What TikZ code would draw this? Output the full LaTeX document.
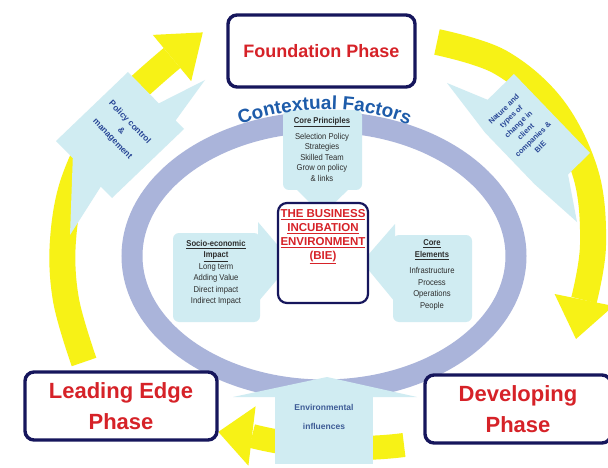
\documentclass[tikz,border=0pt]{standalone}
\usepackage{fontspec}
\setmainfont{Liberation Sans}
\newfontfamily\narrowfont[FakeStretch=0.9]{Liberation Sans}
\usetikzlibrary{decorations.text}
\definecolor{yel}{RGB}{247,242,22}
\definecolor{lav}{RGB}{170,180,218}
\definecolor{lblue}{RGB}{208,236,242}
\definecolor{navy}{RGB}{22,22,92}
\definecolor{pred}{RGB}{214,34,40}
\definecolor{ctx}{RGB}{30,92,170}
\definecolor{cblue}{RGB}{40,70,150}
\definecolor{envblue}{RGB}{62,92,150}
\definecolor{itext}{RGB}{45,45,45}
\tikzset{
  phasebox/.style={draw=navy, line width=3.4, rounded corners=9, fill=white, align=center,
     text=pred, font=\bfseries\fontsize{22}{31}\selectfont},
  callout/.style={fill=lblue},
  inner/.style={align=center, text=itext, font=\narrowfont\fontsize{8.5}{11.5}\selectfont},
  bigtxt/.style={align=center, text=cblue, font=\bfseries\fontsize{8.5}{12}\selectfont},
}
\begin{document}
\begin{tikzpicture}[x=1pt,y=-1pt]
\clip (0,0) rectangle (608,468);
\fill[white] (0,0) rectangle (608,468);

% yellow cycle arrows
\draw[yel, line width=26] plot[smooth, tension=0.6] coordinates {(84,362) (66,300) (63,240) (75,178) (108,118) (172,58)};
\fill[yel] (152.8,34.9) -- (202.8,32.4) -- (191.2,81.1) -- cycle;
\draw[yel, line width=26] plot[smooth, tension=0.6] coordinates {(437,42) (500,62) (553,108) (586,175) (593,245) (584,300)};
\fill[yel] (613.4,306) -- (576,339) -- (554.6,294) -- cycle;
\draw[yel, line width=24] (404,445) .. controls (350,452) and (290,446) .. (252,436);
\fill[yel] (255.6,406.3) -- (218.3,431.9) -- (248.4,465.7) -- cycle;

% lavender ring
\draw[lav, line width=21] (324,256) ellipse [x radius=192, y radius=134];

% big side callouts
\fill[callout] (128,72) -- (158.8,103.4) -- (205,80) -- (175.6,120.5) -- (184,129) -- (112,198)
   -- (100.8,186.6) -- (70,235) -- (72.8,158.1) -- (56,141) -- cycle;
\node[bigtxt, rotate=-46] (pol) at (121,131) {Policy control\\\&\\management};

\fill[callout] (514,74) -- (590,153) -- (568,174.5) -- (577,222) -- (534.6,184.2)
   -- (485.2,132.8) -- (447,83) -- (487.6,99.8) -- cycle;
\node[bigtxt, rotate=44, font=\bfseries\fontsize{7.5}{10.5}\selectfont] (nat) at (522,128)
   {Nature and\\types of\\change in\\client\\companies \&\\BIE};

% inner callouts
\fill[callout, rounded corners=6] (283,110) rectangle (362,190);
\fill[callout] (295,188) -- (350,188) -- (322,215) -- cycle;
\fill[callout, rounded corners=6] (173,233) rectangle (260,322);
\fill[callout] (258,222) -- (292,262) -- (258,302) -- cycle;
\fill[callout, rounded corners=6] (393,235) rectangle (472,322);
\fill[callout] (395,224) -- (362,262) -- (395,302) -- cycle;

% contextual factors (on top of the ring and the core principles box)
\path[decorate, decoration={text along path, text align=center, text color=ctx,
   text={|\bfseries\fontsize{19}{19}\selectfont|Contextual Factors}}]
   (239.3,125.3) arc[start angle=243, end angle=297, x radius=188, y radius=147];

\node[inner] (cp) at (322,149) {\textbf{\underline{Core Principles}}\\[4.5pt]Selection Policy\\[-1pt]Strategies\\[-1pt]Skilled Team\\[-1pt]Grow on policy\\[-1pt]\& links};
\node[inner] (se) at (216,273) {\textbf{\underline{Socio-economic}}\\\textbf{\underline{Impact}}\\Long term\\Adding Value\\Direct impact\\Indirect Impact};
\node[inner] (ce) at (432,275) {\textbf{\underline{Core}}\\\textbf{\underline{Elements}}\\[5pt]Infrastructure\\Process\\Operations\\People};

% BIE box
\node[draw=navy, line width=2.2, rounded corners=9, fill=white, minimum width=90, minimum height=100] (bie) at (323,253) {};
\node[align=center, text=pred, font=\bfseries\fontsize{11.5}{14}\selectfont] (bietxt) at (323,237)
  {\underline{THE BUSINESS}\\\underline{INCUBATION}\\\underline{ENVIRONMENT}\\\underline{(BIE)}};

% environmental influences
\fill[callout] (275,396) rectangle (373,464);
\fill[callout] (233,397) -- (327,377) -- (417,397) -- cycle;
\node[align=center, text=envblue, font=\bfseries\fontsize{8.5}{19}\selectfont] (env) at (324,417) {Environmental\\influences};

% phase boxes
\node[phasebox, minimum width=187, minimum height=72, font=\bfseries\fontsize{18}{22}\selectfont] (found) at (321.5,51) {Foundation Phase};
\node[phasebox, minimum width=192, minimum height=68] (lead) at (121,406) {Leading Edge\\Phase};
\node[phasebox, minimum width=186, minimum height=68] (dev) at (518,409) {Developing\\Phase};
\end{tikzpicture}
\end{document}
